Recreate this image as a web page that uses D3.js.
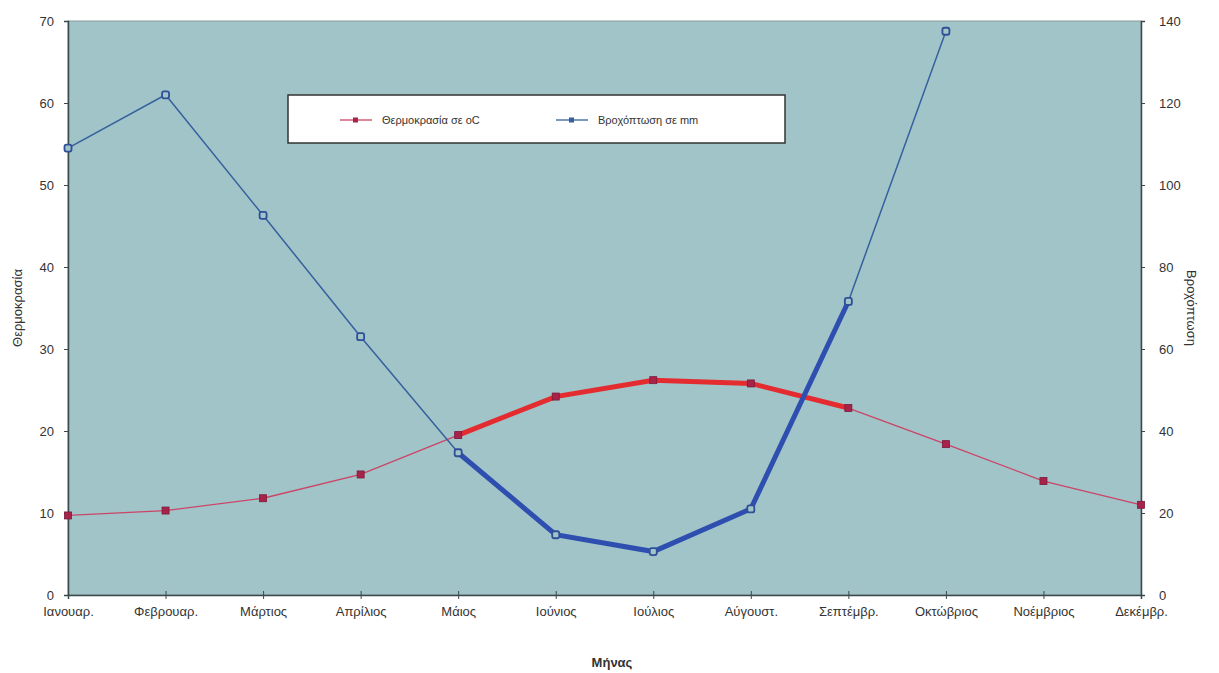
<!DOCTYPE html>
<html>
<head>
<meta charset="utf-8">
<script src="https://d3js.org/d3.v7.min.js"></script>
<style>
  body { margin: 0; background: #fff; }
  text { font-family: Arial, "Liberation Sans", sans-serif; fill: #333; }
</style>
</head>
<body>
<script>
// months, temperature (left axis) and rainfall (right axis)
let months = ["Ιανουαρ.", "Φεβρουαρ.", "Μάρτιος", "Απρίλιος", "Μάιος", "Ιούνιος",
              "Ιούλιος", "Αύγουστ.", "Σεπτέμβρ.", "Οκτώβριος", "Νοέμβριος", "Δεκέμβρ."];
let temp = [9.7, 10.3, 11.8, 14.7, 19.5, 24.2, 26.2, 25.8, 22.8, 18.4, 13.9, 11.0];
let rain = [109, 122, 92.6, 63, 34.7, 14.7, 10.6, 21, 71.6, 137.5, null, null];
// dry months drawn thick
let dry = ["Μάιος", "Ιούνιος", "Ιούλιος", "Αύγουστ.", "Σεπτέμβρ."];
let leftTicks = [0, 10, 20, 30, 40, 50, 60, 70];
let rightTicks = [0, 20, 40, 60, 80, 100, 120, 140];

let width = 1219, height = 673;
let L = 68, R = 1141, T = 21, B = 595;

let svg = d3.select("body").append("svg")
    .attr("width", width).attr("height", height);

let x = d3.scalePoint().domain(months).range([L, R]);
let yT = d3.scaleLinear().domain([0, 70]).range([B, T]);
let yR = d3.scaleLinear().domain([0, 140]).range([B, T]);

// plot background
svg.append("rect")
    .attr("x", L).attr("y", T)
    .attr("width", R - L).attr("height", B - T)
    .attr("fill", "#a0c4c8")
    .attr("stroke", "#8a9a9c").attr("stroke-width", 1);

// axes
let axL = svg.append("g").attr("transform", `translate(${L},0)`)
    .call(d3.axisLeft(yT).tickValues(leftTicks).tickSize(4).tickPadding(10));
let axR = svg.append("g").attr("transform", `translate(${R},0)`)
    .call(d3.axisRight(yR).tickValues(rightTicks).tickSize(4).tickPadding(14));
let axB = svg.append("g").attr("transform", `translate(0,${B})`)
    .call(d3.axisBottom(x).tickSize(4).tickPadding(8));
axB.selectAll(".tick line").attr("y1", -4);

[axL, axR, axB].forEach(a => {
  a.select(".domain").attr("stroke", "#3a4a4c").attr("stroke-width", 1.5);
  a.selectAll(".tick line").attr("stroke", "#3a4a4c");
  a.selectAll("text").attr("font-size", "13px").attr("fill", "#333")
    .attr("font-family", "Arial, 'Liberation Sans', sans-serif");
});
axR.selectAll(".tick text").attr("fill", "#444");

// axis titles
svg.append("text").text("Θερμοκρασία")
    .attr("transform", "translate(22,308) rotate(-90)")
    .attr("text-anchor", "middle").attr("font-size", "13px");
svg.append("text").text("Βροχόπτωση")
    .attr("transform", "translate(1187,308) rotate(90)")
    .attr("text-anchor", "middle").attr("font-size", "13px");
svg.append("text").text("Μήνας")
    .attr("x", 612).attr("y", 667)
    .attr("text-anchor", "middle").attr("font-size", "13px")
    .attr("font-weight", "bold");

let tempLine = d3.line().x((d, i) => x(months[i])).y(d => yT(d));
let rainLine = d3.line().defined(d => d != null)
    .x((d, i) => x(months[i])).y(d => yR(d));
let dryIdx = months.map((m, i) => dry.includes(m));
let tempDry = d3.line().defined((d, i) => dryIdx[i])
    .x((d, i) => x(months[i])).y(d => yT(d));
let rainDry = d3.line().defined((d, i) => dryIdx[i] && d != null)
    .x((d, i) => x(months[i])).y(d => yR(d));

let plot = svg.append("g");

plot.append("path").datum(temp).attr("d", tempLine)
    .attr("fill", "none").attr("stroke", "#cc4466").attr("stroke-width", 1.3);
plot.append("path").datum(rain).attr("d", rainLine)
    .attr("fill", "none").attr("stroke", "#36609e").attr("stroke-width", 1.5);
plot.append("path").datum(temp).attr("d", tempDry)
    .attr("fill", "none").attr("stroke", "#e42c30").attr("stroke-width", 5);
plot.append("path").datum(rain).attr("d", rainDry)
    .attr("fill", "none").attr("stroke", "#2f4fb0").attr("stroke-width", 5);

// markers
plot.selectAll(".tm").data(temp).enter().append("rect")
    .attr("x", (d, i) => x(months[i]) - 3.5).attr("y", d => yT(d) - 3.5)
    .attr("width", 7).attr("height", 7)
    .attr("fill", "#a8234a").attr("stroke", "#7a1a3a").attr("stroke-width", 0.8);
plot.selectAll(".rm").data(rain.filter(d => d != null)).enter().append("rect")
    .attr("x", (d, i) => x(months[i]) - 3.5).attr("y", d => yR(d) - 3.5)
    .attr("width", 7).attr("height", 7).attr("rx", 2)
    .attr("fill", "#a0c4c8").attr("stroke", "#2f4f96").attr("stroke-width", 1.8);

// legend
let lg = svg.append("g").attr("transform", "translate(288,95)");
lg.append("rect").attr("width", 497).attr("height", 48)
    .attr("fill", "#fff").attr("stroke", "#333").attr("stroke-width", 1.5);
let items = [
  {name: "Θερμοκρασία σε oC", color: "#cc4466", mark: "#a8234a", x: 52},
  {name: "Βροχόπτωση σε mm", color: "#36609e", mark: "#36609e", x: 268}
];
items.forEach(it => {
  lg.append("line").attr("x1", it.x).attr("x2", it.x + 32)
    .attr("y1", 25).attr("y2", 25).attr("stroke", it.color).attr("stroke-width", 1.3);
  lg.append("rect").attr("x", it.x + 13).attr("y", 22.5).attr("width", 5).attr("height", 5)
    .attr("fill", it.mark);
  lg.append("text").text(it.name).attr("x", it.x + 42).attr("y", 29)
    .attr("font-size", "11px");
});
</script>
</body>
</html>
